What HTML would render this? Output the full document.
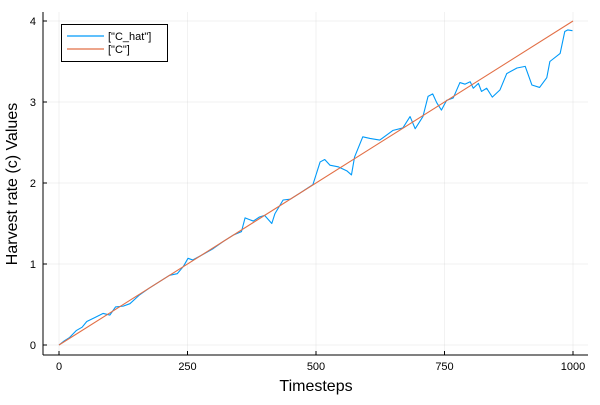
<!DOCTYPE html>
<html><head><meta charset="utf-8"><style>
body{margin:0;background:#fff;font-family:"Liberation Sans",sans-serif}
svg text{font-family:"Liberation Sans",sans-serif}
</style></head><body>
<svg width="600" height="400">
<g id="grid"></g>
<g id="axes"></g>
<g id="series"></g>
<text x="316" y="391" font-size="16" text-anchor="middle">Timesteps</text>
<text transform="translate(17,184) rotate(-90)" font-size="16" text-anchor="middle">Harvest rate (c) Values</text>
<g>
<rect x="61.5" y="24.5" width="106" height="37" fill="#fff" stroke="#000" stroke-width="1"/>
<g><line x1="67" y1="36" x2="104" y2="36" stroke="#009af9" stroke-width="1.2"/><text x="108" y="40" font-size="11">["C_hat"]</text></g>
<g><line x1="67" y1="49" x2="104" y2="49" stroke="#e26f46" stroke-width="1.2"/><text x="108" y="53" font-size="11">["C"]</text></g>
</g>
</svg>
<script>
const xTicks=[0,250,500,750,1000];
const yTicks=[0,1,2,3,4];
const cTimes=[0,1000];
const cValues=[0,4];
const hatTimes=[0,10,20,34,45,54,70,86,99,110,125,138,157,175,200,215,230,242,251,260,275,300,320,340,355,362,370,378,390,400,414,420,436,450,470,494,508,517,527,543,560,569,575,591,605,624,650,669,683,693,708,718,727,735,744,754,767,780,790,800,806,816,822,832,843,858,871,891,907,920,935,949,955,975,984,990,999];
const hatValues=[0,0.05,0.09,0.18,0.22,0.29,0.34,0.39,0.37,0.47,0.48,0.51,0.62,0.70,0.80,0.86,0.88,0.97,1.07,1.05,1.10,1.19,1.28,1.36,1.40,1.57,1.55,1.53,1.58,1.60,1.50,1.62,1.79,1.80,1.88,1.98,2.26,2.29,2.22,2.20,2.15,2.10,2.32,2.57,2.55,2.53,2.65,2.68,2.82,2.67,2.82,3.07,3.10,2.99,2.90,3.02,3.05,3.24,3.22,3.25,3.17,3.23,3.13,3.17,3.06,3.15,3.35,3.42,3.44,3.21,3.18,3.30,3.50,3.60,3.87,3.89,3.88];
const X=t=>59+t*0.514, Y=v=>345-v*81;
const ns="http://www.w3.org/2000/svg";
function mk(tag,attrs,parent){const e=document.createElementNS(ns,tag);for(const k in attrs)e.setAttribute(k,attrs[k]);parent.appendChild(e);return e;}
const grid=document.getElementById('grid'),axes=document.getElementById('axes'),series=document.getElementById('series');
xTicks.forEach(t=>{
 const g=mk('line',{x1:X(t),x2:X(t),y1:12,y2:355,stroke:'#000','stroke-opacity':0.1,'stroke-width':0.5},grid);
 
 
 mk('line',{x1:X(t),x2:X(t),y1:355,y2:351,stroke:'#000','stroke-width':1},axes);
 const l=mk('text',{x:X(t),y:370,'font-size':11,'text-anchor':'middle'},axes);l.textContent=t;
 
 
});
yTicks.forEach(v=>{
 const g=mk('line',{x1:43,x2:588,y1:Y(v),y2:Y(v),stroke:'#000','stroke-opacity':0.1,'stroke-width':0.5},grid);
 
 
 mk('line',{x1:43,x2:47,y1:Y(v),y2:Y(v),stroke:'#000','stroke-width':1},axes);
 const l=mk('text',{x:36,y:Y(v)+4,'font-size':11,'text-anchor':'end'},axes);l.textContent=v;
 
 
});
mk('line',{x1:43,x2:588,y1:355,y2:355,stroke:'#000','stroke-width':1},axes);
mk('line',{x1:43,x2:43,y1:12,y2:355,stroke:'#000','stroke-width':1},axes);
const hat=mk('polyline',{points:hatTimes.map((t,i)=>X(t)+','+Y(hatValues[i])).join(' '),fill:'none',stroke:'#009af9','stroke-width':1.1,'stroke-linejoin':'round'},series);


const c=mk('polyline',{points:cTimes.map((t,i)=>X(t)+','+Y(cValues[i])).join(' '),fill:'none',stroke:'#e26f46','stroke-width':1.1},series);


</script>
</body></html>
